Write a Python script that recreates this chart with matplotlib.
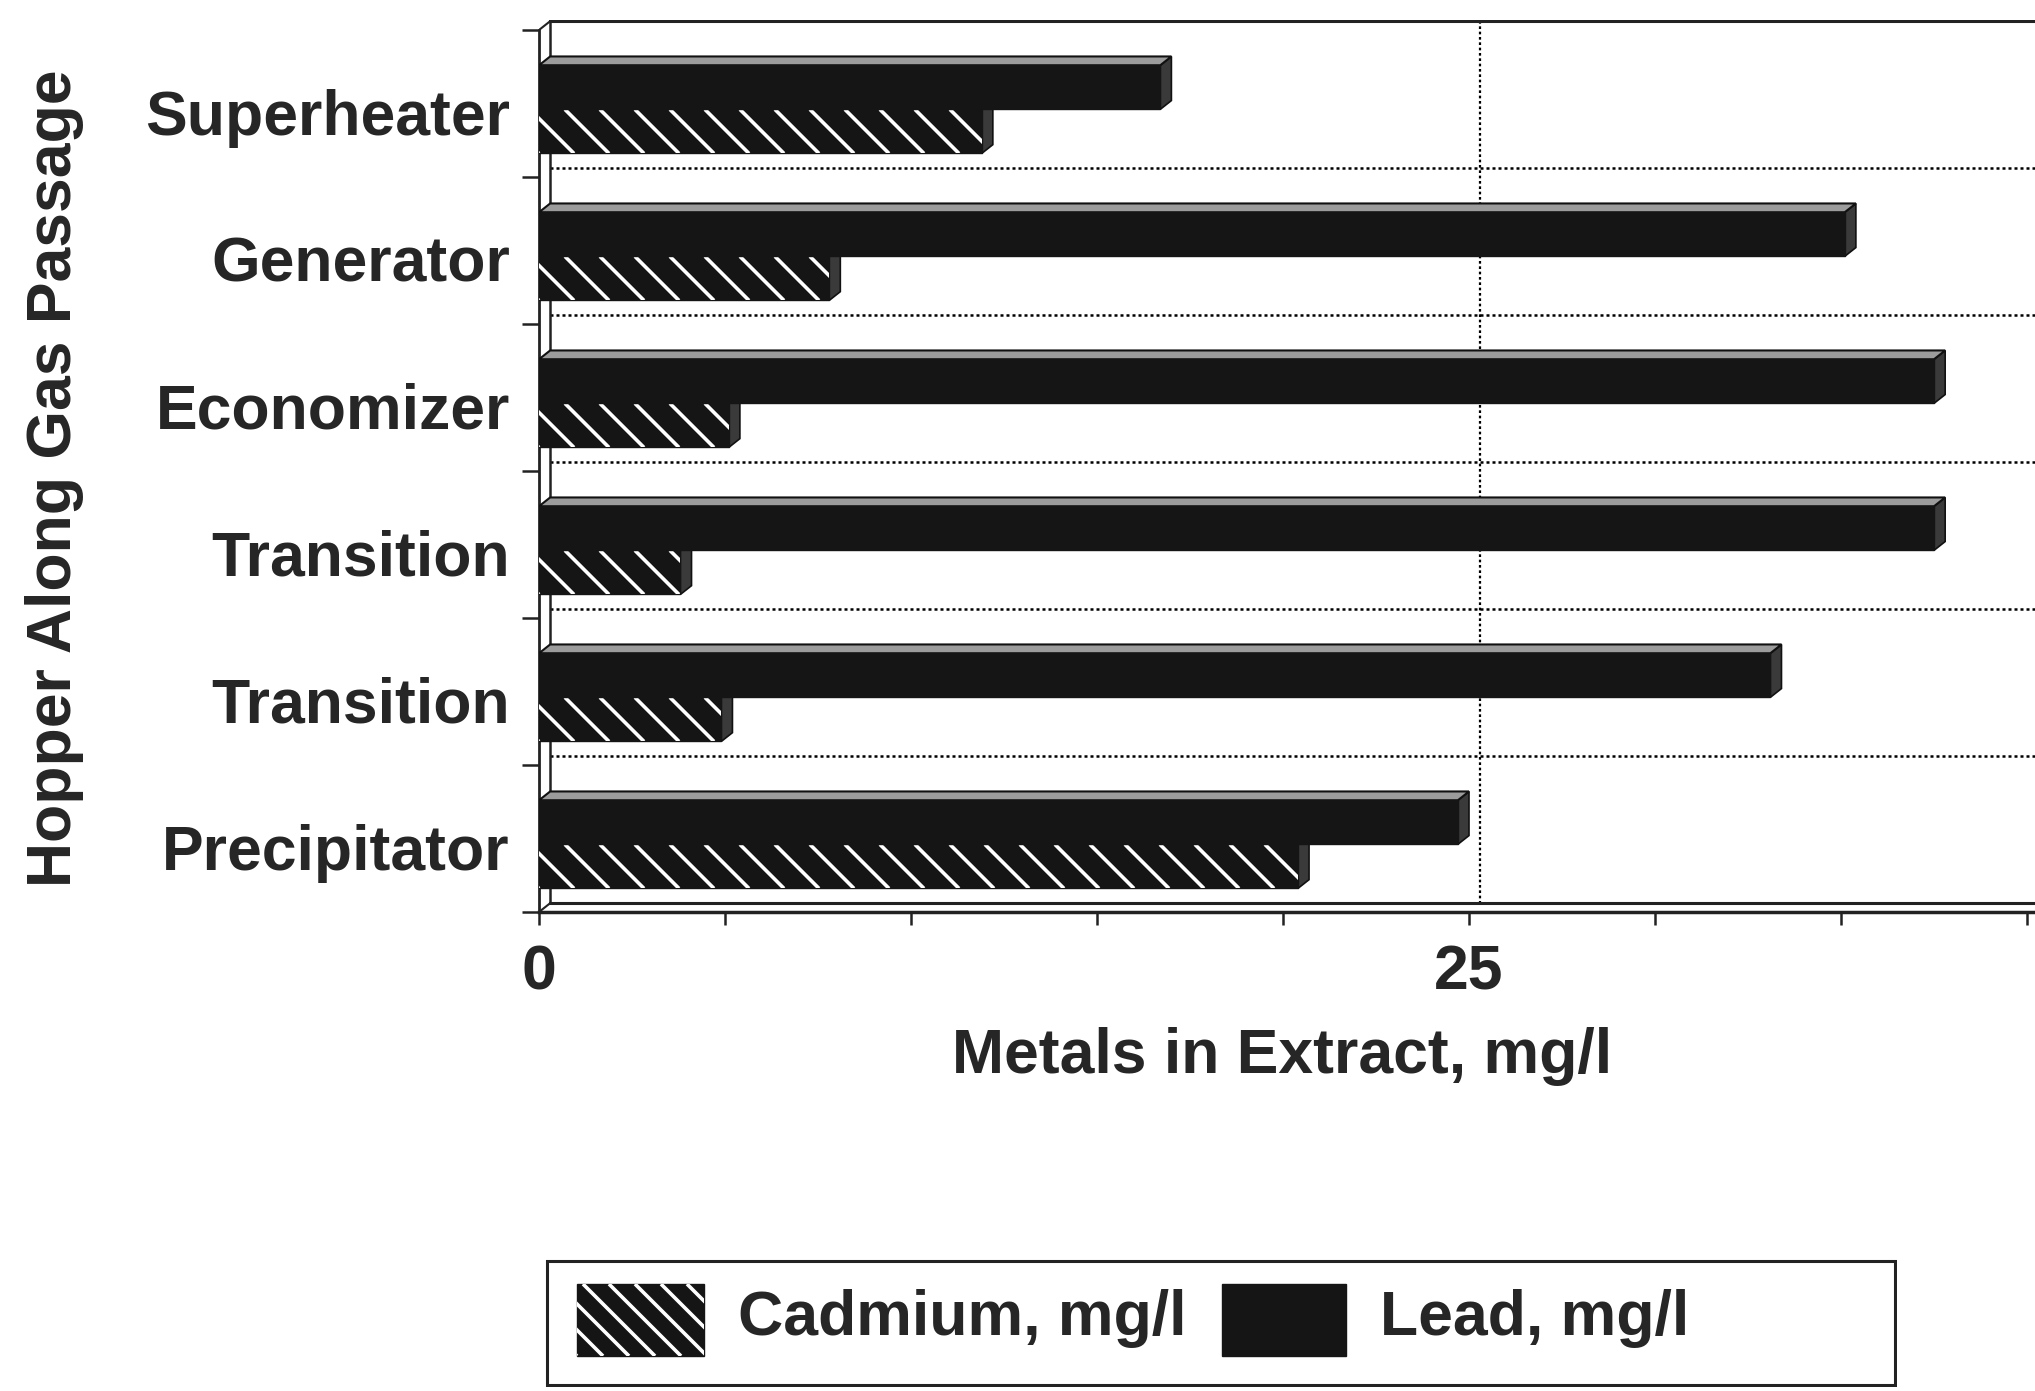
import numpy as np
import matplotlib
matplotlib.use("Agg")
import matplotlib.pyplot as plt
from matplotlib.patches import Polygon, Rectangle
from matplotlib.collections import LineCollection
from matplotlib.transforms import IdentityTransform

# Metals leached from fly ash, by hopper position along the gas passage
categories = ["Superheater", "Generator", "Economizer", "Transition", "Transition", "Precipitator"]
lead = [16.7, 35.1, 37.5, 37.5, 33.1, 24.7]
cadmium = [11.9, 7.8, 5.1, 3.8, 4.9, 20.4]
x_major = [0, 25]
x_minor_step = 5
series_labels = ["Cadmium, mg/l", "Lead, mg/l"]

plt.rcParams["font.family"] = ["Liberation Sans", "DejaVu Sans"]
plt.rcParams["font.weight"] = "bold"
TXT = "#262626"
FS = 45

W, H = 2035, 1391
fig = plt.figure(figsize=(W / 100, H / 100), dpi=100)

# plot area: front plane x=0 at px 539, y-category 0 at px 30, 6 at px 912
y_top_lim = -0.065
px_per_cat = (912 - 30) / 6.0
top_px = 30 + y_top_lim * px_per_cat
ax = fig.add_axes([539 / W, (H - 912) / H, (W - 539) / W, (912 - top_px) / H])
xmax = (W - 539) / 37.2
ax.set_xlim(0, xmax)
ax.set_ylim(6, y_top_lim)

dx, dy = 0.30, 0.06          # depth offset of the 3-D back wall
n = len(categories)
yi = np.arange(n)

# back-wall grid (dotted)
dot = (0, (1.2, 1.2))
for i in range(1, n):
    ax.plot([dx, xmax], [i - dy, i - dy], color="black", lw=1.8, ls=dot, zorder=1)
ax.plot([25 + dx, 25 + dx], [-dy, n - dy], color="black", lw=1.6, ls=dot, zorder=1)

# wall frame
ax.plot([dx, xmax], [-dy, -dy], color="#222", lw=2.2, zorder=2)
ax.plot([dx, dx], [-dy, n - dy], color="#222", lw=1.8, zorder=2)
ax.plot([dx, xmax], [n - dy, n - dy], color="#222", lw=2.2, zorder=2)
ax.plot([0, dx], [0, -dy], color="#222", lw=1.5, zorder=2)
ax.plot([0, dx], [n, n - dy], color="#222", lw=1.5, zorder=2)

lead_top, lead_h = 0.24, 0.30
cad_top, cad_h = 0.54, 0.30

cad_bars = ax.barh(yi + cad_top + cad_h / 2, cadmium, height=cad_h,
                   color="#151515", edgecolor="#151515", lw=1.0, zorder=3)
lead_bars = ax.barh(yi + lead_top + lead_h / 2, lead, height=lead_h,
                    color="#151515", edgecolor="#151515", lw=1.0, zorder=5)

# 3-D caps
for i, (pb, cb) in enumerate(zip(lead, cadmium)):
    t = i + cad_top
    b = t + cad_h
    ax.add_patch(Polygon([(cb, t), (cb + dx, t - dy), (cb + dx, b - dy), (cb, b)],
                         closed=True, fc="#3a3a3a", ec="#111", lw=1.2, zorder=2.9))
    t = i + lead_top
    b = t + lead_h
    ax.add_patch(Polygon([(0, t), (pb, t), (pb + dx, t - dy), (dx, t - dy)],
                         closed=True, fc="#9c9c9c", ec="#111", lw=1.5, zorder=4.9))
    ax.add_patch(Polygon([(pb, t), (pb + dx, t - dy), (pb + dx, b - dy), (pb, b)],
                         closed=True, fc="#3a3a3a", ec="#111", lw=1.2, zorder=4.8))


def hatch_patch(axis, patch, spacing=35.0, lw=2.6, zorder=3.5):
    """White diagonal stripes (top-left to bottom-right) clipped to a patch."""
    bb = patch.get_window_extent()
    h = bb.height
    xs = np.arange(bb.x0 - h - spacing, bb.x1 + spacing, spacing)
    segs = [[(x, bb.y1), (x + h, bb.y0)] for x in xs]
    lc = LineCollection(segs, colors="white", linewidths=lw,
                        transform=IdentityTransform(), zorder=zorder)
    axis.add_collection(lc)
    lc.set_clip_path(patch)


for bar in cad_bars:
    hatch_patch(ax, bar)

# axes spines and ticks
for s in ("top", "right"):
    ax.spines[s].set_visible(False)
ax.spines["left"].set_bounds(0, n)
ax.spines["left"].set_linewidth(2.0)
ax.spines["bottom"].set_linewidth(2.5)
ax.spines["left"].set_color("#222")
ax.spines["bottom"].set_color("#222")

ax.set_xticks(x_major)
ax.set_xticklabels([str(v) for v in x_major])
ax.set_xticks(np.arange(0, xmax, x_minor_step), minor=True)
ax.tick_params(axis="x", which="both", direction="out", length=9, width=1.8,
               color="#222", labelsize=FS, labelcolor=TXT, pad=14)

ax.set_yticks(yi + 0.555)
ax.set_yticklabels(categories)
ax.set_yticks(np.arange(n + 1), minor=True)
ax.tick_params(axis="y", which="major", length=0, labelsize=FS, labelcolor=TXT, pad=21)
ax.tick_params(axis="y", which="minor", length=12, width=1.8, color="#222")

fig.text(1282 / W, 1 - 1056 / H, "Metals in Extract, mg/l", ha="center", va="center",
         fontsize=FS, color=TXT)
fig.text(55 / W, 1 - 478 / H, "Hopper Along Gas Passage", ha="center", va="center",
         rotation=90, fontsize=FS, color=TXT)

# legend box
lx0, lx1, ly0, ly1 = 545, 1897, 1259, 1387
lax = fig.add_axes([lx0 / W, (H - ly1) / H, (lx1 - lx0) / W, (ly1 - ly0) / H])
lax.set_xlim(lx0, lx1)
lax.set_ylim(ly1, ly0)
lax.axis("off")
lax.add_patch(Rectangle((lx0 + 2, ly0 + 2), lx1 - lx0 - 4, ly1 - ly0 - 4,
                        fill=False, ec="#222", lw=2.2))
sw_c = Rectangle((577, 1284), 127, 72, fc="#151515", ec="#151515", lw=1.0, zorder=2)
lax.add_patch(sw_c)
hatch_patch(lax, sw_c, spacing=26, lw=2.6, zorder=3)
lax.add_patch(Rectangle((1222, 1284), 124, 72, fc="#151515", ec="#151515", lw=1.0, zorder=2))
lax.text(738, 1318, series_labels[0], ha="left", va="center", fontsize=FS, color=TXT)
lax.text(1380, 1318, series_labels[1], ha="left", va="center", fontsize=FS, color=TXT)

fig.savefig("out.png", dpi=100)
